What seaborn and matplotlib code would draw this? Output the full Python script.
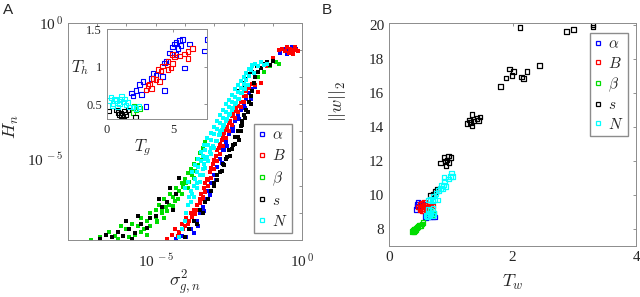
"""
Two panels: H_n against sigma^2 (log-log, with T_h vs T_g inset) and ||w||_2 against T_w
"""
import numpy as np
import pandas as pd
import matplotlib
matplotlib.use('Agg')
import matplotlib.pyplot as plt
from matplotlib.lines import Line2D
import seaborn as sns

names = [r'$\alpha$', r'$B$', r'$\beta$', r'$s$', r'$N$']
colors = ['#0000ff', '#ff0000', '#00dd00', '#000000', '#00ffff']

# panel A main cloud, stored as log10 of sigma^2_{g,n} and log10 of H_n
alpha_lx = [-4.3, -4.1, -3.95, -3.8, -3.7, -3.6, -3.5, -3.4, -3.3, -3.2, -3.1, -3.0, -2.9, -2.8, -2.7,
            -2.6, -2.5, -2.4, -2.3, -2.2, -2.1, -2.0, -1.9, -1.8, -1.7, -1.6, -0.75, -0.55, -0.35, -0.2,
            -0.5, -3.55, -3.25, -2.95, -2.65, -2.35, -2.05,
            -3.35, -3.15, -2.95, -2.75, -2.55, -2.35, -2.15, -1.95, -1.75]
alpha_ly = [-7.95, -7.85, -7.9, -7.6, -7.75, -7.3, -7.0, -6.8, -6.5, -6.2, -5.9, -5.6, -5.3, -5.0, -4.7,
            -4.4, -4.1, -3.85, -3.6, -3.4, -3.2, -3.0, -2.8, -2.6, -2.45, -2.35, -1.1, -0.95, -0.9, -0.95,
            -1.15, -7.5, -6.5, -5.6, -4.7, -3.85, -3.1,
            -6.95, -6.35, -5.8, -5.15, -4.55, -4.0, -3.55, -3.15, -2.8]
B_lx = [-4.6, -4.45, -4.35, -4.2, -4.1, -4.0, -3.95, -3.85, -3.8, -3.7, -3.65, -3.6, -3.5, -3.45, -3.4,
        -3.35, -3.3, -3.25, -3.2, -3.15, -3.1, -3.05, -3.0, -2.95, -2.9, -2.85, -2.8, -2.75, -2.7, -2.65,
        -2.6, -2.55, -2.5, -2.45, -2.4, -2.35, -2.3, -2.25, -2.2, -2.1, -2.0, -1.9, -1.8, -1.7, -1.6,
        -1.5, -1.4, -1.2, -1.0, -0.8, -0.7, -0.6, -0.5, -0.45, -0.4, -0.35, -0.3, -0.25, -0.2, -0.15,
        -4.25, -4.05, -3.9, -3.75, -3.6, -3.5, -3.4, -3.3, -3.2, -3.1, -3.0, -2.9, -2.8, -2.7, -2.6,
        -2.5, -2.4, -2.3, -2.2, -2.1, -2.0, -1.9]
B_ly = [-7.95, -7.8, -7.6, -7.7, -7.4, -7.5, -7.2, -7.3, -7.0, -6.9, -7.05, -6.7, -6.5, -6.3, -6.4,
        -6.1, -5.9, -5.75, -5.8, -5.5, -5.35, -5.2, -5.05, -4.9, -4.7, -4.6, -4.45, -4.3, -4.2, -4.05,
        -3.95, -3.85, -3.7, -3.6, -3.45, -3.35, -3.25, -3.15, -3.05, -2.9, -2.7, -2.5, -2.4, -2.25, -2.3,
        -2.55, -2.2, -1.6, -1.3, -1.0, -0.95, -1.05, -0.9, -1.1, -0.95, -1.0, -1.15, -0.9, -1.0, -1.05,
        -7.85, -7.6, -7.4, -7.15, -6.9, -6.65, -6.5, -6.25, -6.0, -5.7, -5.4, -5.1, -4.85, -4.55, -4.25,
        -4.0, -3.75, -3.5, -3.3, -3.1, -2.9, -2.7]
beta_lx = [-7.2, -6.9, -6.6, -6.4, -6.2, -6.0, -5.8, -5.6, -5.5, -5.3, -5.2, -5.0, -5.0, -4.9, -4.8,
           -4.7, -4.6, -4.5, -4.4, -4.3, -4.2, -4.1, -4.0, -3.95, -3.9, -3.8, -3.75, -3.7, -3.6, -3.5,
           -3.4, -3.3, -5.7, -5.4, -4.95, -4.65, -4.35, -4.05, -1.5, -1.3, -1.1, -0.9, -0.8,
           -4.55, -4.25, -4.1, -3.9, -3.85, -3.7, -3.65, -3.55, -3.45, -4.8, -4.6, -4.4, -5.2, -4.95,
           -4.7, -5.5, -5.9, -6.3, -5.3]
beta_ly = [-8.0, -7.9, -7.7, -7.85, -7.5, -7.6, -7.4, -7.5, -7.2, -7.3, -7.0, -6.9, -7.15, -6.7, -6.85,
           -6.5, -6.6, -6.3, -6.4, -6.1, -6.2, -5.9, -5.75, -5.9, -5.55, -5.4, -5.6, -5.2, -5.0, -4.8,
           -4.6, -4.4, -7.8, -7.6, -7.3, -6.8, -6.55, -6.05, -2.0, -1.8, -1.6, -1.45, -1.5,
           -6.7, -6.5, -6.3, -6.1, -5.85, -5.7, -5.45, -5.25, -5.05, -7.0, -6.95, -6.75, -7.5, -7.35,
           -7.2, -7.7, -7.9, -7.95, -7.8]
s_lx = [-6.9, -6.7, -6.5, -6.3, -6.1, -5.9, -5.7, -5.5, -5.3, -5.2, -5.0, -4.8, -4.6, -4.4, -4.3,
        -3.6, -3.4, -3.3, -3.1, -3.0, -2.9, -2.8, -2.7, -2.6, -2.5, -2.45, -2.35, -2.3, -2.2, -2.15,
        -2.1, -2.05, -2.0, -1.9, -1.8, -1.75, -1.7, -1.65, -1.6, -1.5, -1.4, -1.3, -1.2, -1.1, -1.0,
        -2.6, -2.4, -2.2, -2.0, -1.8,
        -3.2, -3.0, -2.9, -2.75, -2.65, -2.55, -2.4, -2.3, -2.2, -2.1, -2.05, -1.95, -1.85, -1.75,
        -3.5, -3.7, -3.85, -4.0, -6.0, -5.6, -5.8, -4.9, -4.5, -4.2, -2.0, -1.9, -1.7, -1.55]
s_ly = [-7.95, -7.8, -7.9, -7.7, -7.85, -7.6, -7.75, -7.4, -7.55, -7.2, -7.1, -6.8, -6.6, -6.9, -6.3,
        -7.4, -7.0, -6.6, -6.2, -5.9, -5.6, -5.5, -5.2, -5.0, -4.7, -4.9, -4.5, -4.2, -4.0, -4.3,
        -3.8, -3.6, -3.4, -3.2, -2.9, -2.7, -2.5, -2.2, -2.0, -1.8, -1.65, -1.5, -1.45, -1.55, -1.4,
        -3.3, -2.9, -2.5, -2.2, -1.9,
        -6.5, -6.0, -5.8, -5.45, -5.25, -4.95, -4.65, -4.45, -4.2, -4.0, -3.75, -3.5, -3.3, -3.0,
        -6.9, -7.3, -7.6, -7.9, -7.3, -7.1, -7.95, -6.5, -6.1, -5.7, -2.4, -2.05, -1.8, -1.6]
N_lx = [-4.2, -4.1, -4.0, -3.95, -3.9, -3.85, -3.8, -3.7, -3.75, -3.65, -3.6, -3.55, -3.5, -3.45, -3.4,
        -3.35, -3.3, -3.25, -3.2, -3.15, -3.1, -3.05, -3.0, -2.95, -2.9, -2.85, -2.8, -2.75, -2.7, -2.65,
        -2.6, -2.55, -2.5, -2.45, -2.4, -2.35, -2.3, -2.25, -2.2, -2.15, -2.1, -2.05, -2.0, -1.95, -1.9,
        -1.85, -1.8, -1.75, -1.7, -1.65, -1.6, -1.5, -1.4, -1.3, -1.2, -3.6, -3.4, -3.3, -3.1, -2.8,
        -3.8, -3.7, -3.6, -3.5, -3.4, -3.3, -3.2, -3.1, -3.0, -2.9, -2.8, -2.7, -2.6, -2.5, -2.4,
        -2.3, -2.2, -2.1, -2.0, -1.9,
        -4.0, -3.9, -3.75, -3.65, -3.55, -3.45, -3.35, -3.25, -3.1, -3.0, -2.9, -2.8, -2.7, -2.6,
        -2.5, -2.4, -2.3, -2.2, -2.1, -2.0, -1.9, -1.8, -1.72]
N_ly = [-7.9, -7.6, -7.3, -7.0, -6.7, -6.4, -6.2, -6.0, -6.3, -5.75, -5.5, -5.3, -5.6, -5.1, -4.9,
        -5.2, -4.7, -4.95, -4.5, -4.75, -4.3, -4.55, -4.1, -4.35, -3.9, -4.15, -3.7, -3.95, -3.5, -3.75,
        -3.3, -3.55, -3.1, -3.35, -2.9, -3.15, -2.75, -2.95, -2.55, -2.8, -2.4, -2.6, -2.25, -2.45, -2.1,
        -2.3, -1.95, -1.75, -1.6, -1.85, -1.5, -1.6, -1.45, -1.55, -1.5, -5.9, -5.4, -5.0, -4.6, -4.0,
        -6.6, -6.4, -6.1, -5.85, -5.6, -5.35, -5.1, -4.85, -4.6, -4.35, -4.1, -3.85, -3.6, -3.4, -3.2,
        -3.0, -2.8, -2.6, -2.45, -2.3,
        -6.1, -5.85, -5.5, -5.25, -5.0, -4.75, -4.5, -4.25, -4.05, -3.85, -3.6, -3.4, -3.2, -3.0,
        -2.85, -2.65, -2.45, -2.3, -2.15, -2.0, -1.85, -1.7, -1.55]

# panel A inset: T_g, T_h
alpha_tg = [7.58, 7.33, 5.7, 5.45, 5.2, 5.08, 5.58, 4.95, 5.33, 6.2, 4.7, 5.2, 5.83, 4.45, 4.33,
            3.7, 3.45, 3.33, 4.2, 2.7, 2.45, 2.2, 2.58, 1.95, 1.83, 4.33, 2.95]
alpha_th = [1.36, 1.21, 1.36, 1.35, 1.32, 1.30, 1.28, 1.26, 1.24, 1.30, 1.18, 1.16, 0.98, 1.07, 1.05,
            0.89, 0.91, 0.84, 0.87, 0.80, 0.76, 0.68, 0.63, 0.61, 0.65, 0.68, 0.47]
B_tg = [6.45, 6.08, 5.83, 5.45, 5.08, 4.95, 4.83, 4.58, 4.2, 4.08, 3.83, 3.7, 3.95, 3.45, 3.2,
        3.33, 2.95, 3.08, 4.58, 4.95, 6.08]
B_th = [1.24, 1.20, 1.17, 1.14, 1.13, 1.16, 0.98, 0.96, 1.01, 0.94, 0.96, 0.83, 0.80, 0.84, 0.77,
        0.71, 0.69, 0.75, 1.07, 1.04, 1.11]
beta_tg = [2.2, 2.45, 1.95, 2.05]
beta_th = [0.42, 0.44, 0.39, 0.47]
s_tg = [0.1, 0.7, 1.07, 1.33, 1.2, 1.45, 0.95, 1.25, 1.58, 2.15, 1.1, 0.85]
s_th = [0.41, 0.42, 0.38, 0.40, 0.33, 0.36, 0.36, 0.30, 0.42, 0.33, 0.35, 0.39]
N_tg = [0.2, 0.45, 0.7, 0.95, 1.2, 1.45, 1.7, 1.95, 0.57, 1.33, 0.82, 2.2, 0.3, 1.0, 1.6, 0.4, 2.4, 1.1]
N_th = [0.55, 0.51, 0.55, 0.51, 0.53, 0.49, 0.46, 0.46, 0.57, 0.57, 0.46, 0.44, 0.59, 0.56, 0.52, 0.48, 0.47, 0.6]

# panel B: T_w, ||w||_2
alpha_tw = [0.44, 0.45, 0.47, 0.48, 0.50, 0.52, 0.55, 0.58, 0.62, 0.66, 0.70, 0.73, 0.60, 0.46]
alpha_w = [9.15, 9.45, 9.55, 9.3, 9.2, 9.5, 9.45, 8.75, 8.7, 8.72, 8.75, 8.7, 8.65, 9.35]
B_tw = [0.48, 0.50, 0.52, 0.53, 0.55, 0.56, 0.58, 0.60, 0.62, 0.64, 0.66, 0.68, 0.70, 0.54, 0.57, 0.61, 0.50, 0.65]
B_w = [9.3, 9.45, 9.2, 9.5, 9.35, 9.1, 9.4, 9.25, 9.3, 9.2, 9.35, 9.3, 9.35, 9.05, 9.55, 9.1, 9.15, 9.45]
beta_tw = [0.38, 0.39, 0.40, 0.41, 0.42, 0.44, 0.45, 0.47, 0.49, 0.51, 0.53, 0.55, 0.40, 0.43,
           0.63, 0.66, 0.68, 0.70, 0.72]
beta_w = [7.85, 7.9, 7.95, 7.88, 8.0, 8.05, 8.1, 8.15, 8.2, 8.22, 8.3, 8.38, 7.82, 7.98,
          8.9, 8.95, 9.05, 8.85, 8.95]
s_tw = [2.12, 2.87, 2.99, 3.30, 3.30, 1.95, 1.99, 2.01, 1.89, 1.80, 2.14, 2.18, 2.23, 2.43,
        1.26, 1.30, 1.34, 1.34, 1.37, 1.42, 1.45, 1.47, 1.32,
        0.83, 0.89, 0.92, 0.94, 0.97, 1.00, 0.96, 0.91, 0.67, 0.75, 0.78, 0.72]
s_w = [19.88, 19.65, 19.75, 20.04, 19.9, 17.44, 17.05, 17.3, 16.9, 16.4, 16.97, 16.87, 17.3, 17.63,
       14.2, 14.42, 14.76, 14.07, 14.36, 14.52, 14.4, 14.6, 14.27,
       11.88, 12.21, 11.72, 12.07, 11.92, 12.21, 12.31, 12.0, 9.96, 10.2, 10.35, 10.06]
N_tw = [0.60, 0.62, 0.64, 0.66, 0.68, 0.70, 0.72, 0.63, 0.67, 0.71, 0.64, 0.66, 0.70, 0.74, 0.78,
        0.72, 0.76, 0.80, 0.83, 0.85, 0.88, 0.90, 0.92, 0.96, 0.99, 1.01, 1.03, 0.89, 0.86]
N_w = [8.8, 8.75, 8.9, 8.85, 8.95, 8.8, 8.9, 9.15, 9.1, 9.2, 9.7, 9.75, 9.65, 9.75, 9.7,
       9.95, 10.1, 10.25, 10.4, 10.55, 10.6, 10.8, 10.5, 10.95, 11.1, 11.3, 11.1, 11.05, 10.35]

main_x = [alpha_lx, B_lx, beta_lx, s_lx, N_lx]
main_y = [alpha_ly, B_ly, beta_ly, s_ly, N_ly]
ins_x = [alpha_tg, B_tg, beta_tg, s_tg, N_tg]
ins_y = [alpha_th, B_th, beta_th, s_th, N_th]
pb_x = [alpha_tw, B_tw, beta_tw, s_tw, N_tw]
pb_y = [alpha_w, B_w, beta_w, s_w, N_w]

sns.set_style('white')
plt.rcParams['font.family'] = ['Liberation Serif', 'DejaVu Serif']
plt.rcParams['mathtext.fontset'] = 'cm'

fig = plt.figure(figsize=(6.4, 2.97), dpi=100)
axA = fig.add_axes([0.106, 0.192, 0.366, 0.731])
axI = fig.add_axes([0.167, 0.599, 0.156, 0.303])
axB = fig.add_axes([0.608, 0.172, 0.386, 0.751])


def frame(ax):
    for sp in ax.spines.values():
        sp.set_color('0.55')
        sp.set_linewidth(0.7)
    ax.tick_params(which='both', direction='in', top=True, right=True, length=2.5, width=0.6, color='0.5')


def open_squares(ax, color):
    pc = ax.collections[-1]
    pc.set_facecolor('none')
    pc.set_edgecolor(color)


# main cloud
for i in range(5):
    df = pd.DataFrame({'x': 10.0 ** np.array(main_x[i]), 'y': 10.0 ** np.array(main_y[i])})
    sns.scatterplot(x='x', y='y', data=df, ax=axA, color=colors[i], marker='s', s=8,
                    linewidth=0, legend=False)
axA.set_xscale('log')
axA.set_yscale('log')
axA.set_xlim(1e-8, 1e0)
axA.set_ylim(1e-8, 1e0)
axA.set_xticks([1e-5, 1e0])
axA.set_yticks([1e-5, 1e0])
axA.set_xticks([10.0 ** k for k in range(-8, 1)], minor=True)
axA.set_yticks([10.0 ** k for k in range(-8, 1)], minor=True)
axA.set_xticklabels([r'10$^{\,-5}$', r'10$^{\,0}$'], fontsize=11)
axA.set_yticklabels([r'10$^{\,-5}$', r'10$^{\,0}$'], fontsize=11)
axA.tick_params(which='minor', labelbottom=False, labelleft=False)
frame(axA)
axA.tick_params(axis='x', pad=9)
axA.set_xlabel(r'$\sigma^2_{g,n}$', fontsize=13)
axA.set_ylabel(r'$H_n$', fontsize=13)
axA.xaxis.set_label_coords(0.5, -0.13)
axA.yaxis.set_label_coords(-0.2, 0.52)
handles = [Line2D([], [], marker='s', ls='', mfc='none', mec=c, ms=3, mew=0.9) for c in colors]
axA.legend(handles, names, loc='upper right', bbox_to_anchor=(0.957, 0.535), fontsize=11,
           handlelength=0.5, handletextpad=0.4, labelspacing=0.4, borderpad=0.3,
           borderaxespad=0, frameon=True, fancybox=False, edgecolor='0.55', framealpha=1)

# inset
for i in range(5):
    df = pd.DataFrame({'x': ins_x[i], 'y': ins_y[i]})
    sns.scatterplot(x='x', y='y', data=df, ax=axI, color=colors[i], marker='s', s=11,
                    linewidth=0.8, legend=False)
    open_squares(axI, colors[i])
axI.set_xlim(0, 7.5)
axI.set_ylim(0.3, 1.5)
axI.set_xticks([0, 5])
axI.set_yticks([0.5, 1, 1.5])
axI.set_yticklabels(['0.5', '1', '1.5'])
axI.tick_params(labelsize=9)
frame(axI)
axI.set_xlabel(r'$T_g$', fontsize=12)
axI.set_ylabel(r'$T_h$', fontsize=12, rotation=0)
axI.xaxis.set_label_coords(0.36, -0.2)
axI.yaxis.set_label_coords(-0.27, 0.47)

# panel B
for i in range(5):
    df = pd.DataFrame({'x': pb_x[i], 'y': pb_y[i]})
    sns.scatterplot(x='x', y='y', data=df, ax=axB, color=colors[i], marker='s', s=11,
                    linewidth=0.9, legend=False)
    open_squares(axB, colors[i])
axB.set_xlim(0, 4)
axB.set_ylim(7, 20.15)
axB.set_xticks([0, 2, 4])
axB.set_yticks([8, 10, 12, 14, 16, 18, 20])
axB.tick_params(labelsize=11)
frame(axB)
axB.set_xlabel(r'$T_w$', fontsize=13)
axB.set_ylabel(r'$||w||_2$', fontsize=13)
axB.xaxis.set_label_coords(0.5, -0.12)
axB.yaxis.set_label_coords(-0.165, 0.65)
axB.legend(handles, names, loc='upper right', bbox_to_anchor=(0.968, 0.955), fontsize=11,
           handlelength=0.5, handletextpad=0.4, labelspacing=0.3, borderpad=0.3,
           borderaxespad=0, frameon=True, fancybox=False, edgecolor='0.55', framealpha=1)

fig.text(0.004, 0.965, 'A', fontsize=11, family='Liberation Sans', va='center')
fig.text(0.503, 0.965, 'B', fontsize=11, family='Liberation Sans', va='center')

fig.savefig('out.png', dpi=100)
